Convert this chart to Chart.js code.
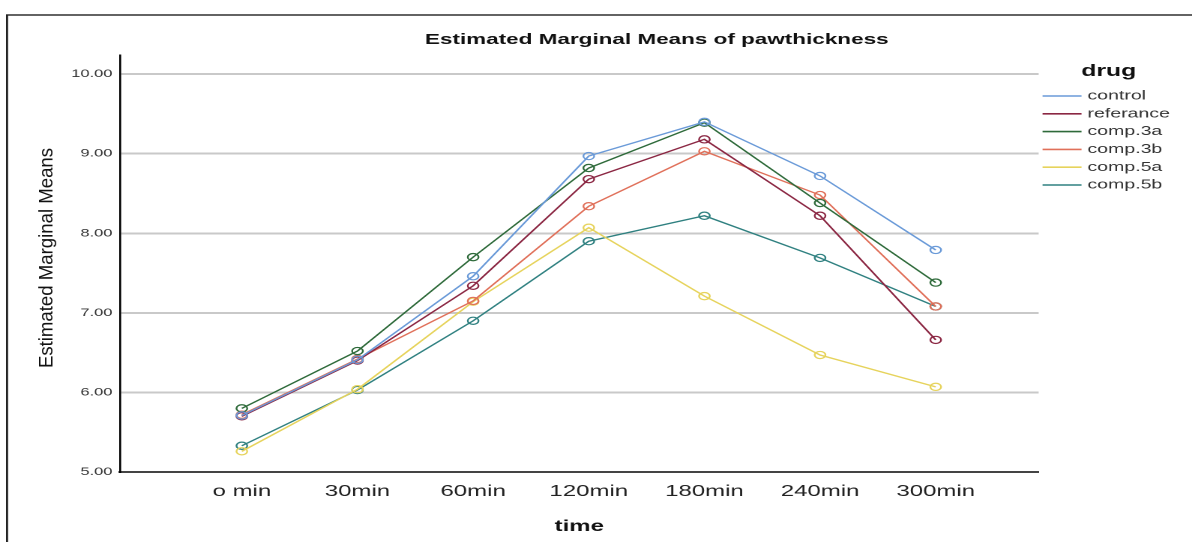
<!DOCTYPE html>
<html>
<head>
<meta charset="utf-8">
<script src="https://cdn.jsdelivr.net/npm/chart.js@4.4.1/dist/chart.umd.min.js"></script>
<style>
  html, body { margin: 0; padding: 0; background: #fff; overflow: hidden; }
  /* the reference picture is stretched sideways, so draw narrow and stretch */
  #wrap { width: 795px; height: 542px; transform: scaleX(1.4994); transform-origin: 0 0; }
</style>
</head>
<body>
<div id="wrap"><canvas id="myChart" width="795" height="542"></canvas></div>
<script>
var timeLabels = ['o min', '30min', '60min', '120min', '180min', '240min', '300min'];
var drugNames = ['control', 'referance', 'comp.3a', 'comp.3b', 'comp.5a', 'comp.5b'];
var yTicks = [5, 6, 7, 8, 9, 10];

var control   = [5.71, 6.41, 7.46, 8.97, 9.40, 8.72, 7.79];
var referance = [5.70, 6.40, 7.34, 8.68, 9.18, 8.22, 6.66];
var comp3a    = [5.80, 6.52, 7.70, 8.82, 9.39, 8.38, 7.38];
var comp3b    = [5.72, 6.42, 7.15, 8.34, 9.03, 8.48, 7.08];
var comp5a    = [5.26, 6.04, 7.14, 8.07, 7.21, 6.47, 6.07];
var comp5b    = [5.33, 6.03, 6.90, 7.90, 8.22, 7.69, 7.08];

var allSeries = [control, referance, comp3a, comp3b, comp5a, comp5b];
var colors = ['#6a9ad8', '#8b2743', '#2e6a3a', '#e0705a', '#e6d35c', '#2f8080'];

var datasets = allSeries.map(function (vals, i) {
    return {
        label: drugNames[i],
        data: vals.map(function (v, j) { return { x: j, y: v }; }),
        borderColor: colors[i],
        borderWidth: 1.3,
        pointRadius: 3.6,
        pointBorderWidth: 1.2,
        pointBorderColor: colors[i],
        pointBackgroundColor: 'rgba(255,255,255,0)',
        tension: 0,
        fill: false
    };
});

// frame, title, legend and the squeezed y title
var extras = {
    id: 'extras',
    afterDraw: function (chart) {
        var ctx = chart.ctx;
        ctx.save();
        ctx.strokeStyle = '#222';
        ctx.lineWidth = 1.4;
        ctx.strokeRect(4.7, 15, 900, 700);

        ctx.fillStyle = '#111';
        ctx.font = 'bold 15px "Liberation Sans", Arial, sans-serif';
        ctx.textAlign = 'center';
        ctx.textBaseline = 'middle';
        ctx.fillText('Estimated Marginal Means of pawthickness', 438, 40);

        ctx.font = 'bold 16.5px "Liberation Sans", Arial, sans-serif';
        ctx.textBaseline = 'alphabetic';
        ctx.fillText('drug', 739.5, 76);

        ctx.font = '13px "Liberation Sans", Arial, sans-serif';
        ctx.textAlign = 'left';
        ctx.textBaseline = 'middle';
        for (var i = 0; i < drugNames.length; i++) {
            var y = 96 + i * 17.8;
            ctx.strokeStyle = colors[i];
            ctx.lineWidth = 1.6;
            ctx.beginPath();
            ctx.moveTo(695.3, y);
            ctx.lineTo(721.3, y);
            ctx.stroke();
            ctx.fillStyle = '#333';
            ctx.fillText(drugNames[i], 725.3, y);
        }

        ctx.translate(31.3, 258);
        ctx.rotate(-Math.PI / 2);
        ctx.scale(1, 0.68);
        ctx.fillStyle = '#111';
        ctx.font = '18.6px "Liberation Sans", Arial, sans-serif';
        ctx.textAlign = 'center';
        ctx.textBaseline = 'middle';
        ctx.fillText('Estimated Marginal Means', 0, 0);
        ctx.restore();
    }
};

var myChart = new Chart(document.getElementById('myChart').getContext('2d'), {
    type: 'line',
    data: { datasets: datasets },
    plugins: [extras],
    options: {
        responsive: false,
        animation: false,
        devicePixelRatio: 2,
        layout: { padding: { top: 55, right: 102.3, bottom: 0, left: 0 } },
        plugins: {
            legend: { display: false },
            title: { display: false },
            tooltip: { enabled: false }
        },
        scales: {
            x: {
                type: 'linear',
                min: -1.054,
                max: 6.89,
                afterFit: function (s) { s.height = 70; },
                afterBuildTicks: function (s) {
                    s.ticks = timeLabels.map(function (t, i) { return { value: i }; });
                },
                grid: { display: false, drawTicks: false },
                border: { display: true, color: '#444', width: 2 },
                ticks: {
                    padding: 10,
                    color: '#222',
                    font: { family: '"Liberation Sans", Arial, sans-serif', size: 16 },
                    maxRotation: 0,
                    autoSkip: false,
                    callback: function (v) { return timeLabels[v]; }
                },
                title: {
                    display: true,
                    text: 'time',
                    color: '#111',
                    font: { family: '"Liberation Sans", Arial, sans-serif', size: 16, weight: 'bold' },
                    padding: { top: 0, bottom: 6 }
                }
            },
            y: {
                min: 5,
                max: 10.24,
                afterFit: function (s) { s.width = 80; },
                afterBuildTicks: function (s) {
                    s.ticks = yTicks.map(function (v) { return { value: v }; });
                },
                grid: { color: '#c9c9c9', lineWidth: 2, drawTicks: false },
                border: { display: true, color: '#000', width: 1.3 },
                ticks: {
                    padding: 5,
                    color: '#333',
                    font: { family: '"Liberation Sans", Arial, sans-serif', size: 11 },
                    callback: function (v) { return v.toFixed(2); }
                }
            }
        }
    }
});
</script>
</body>
</html>
